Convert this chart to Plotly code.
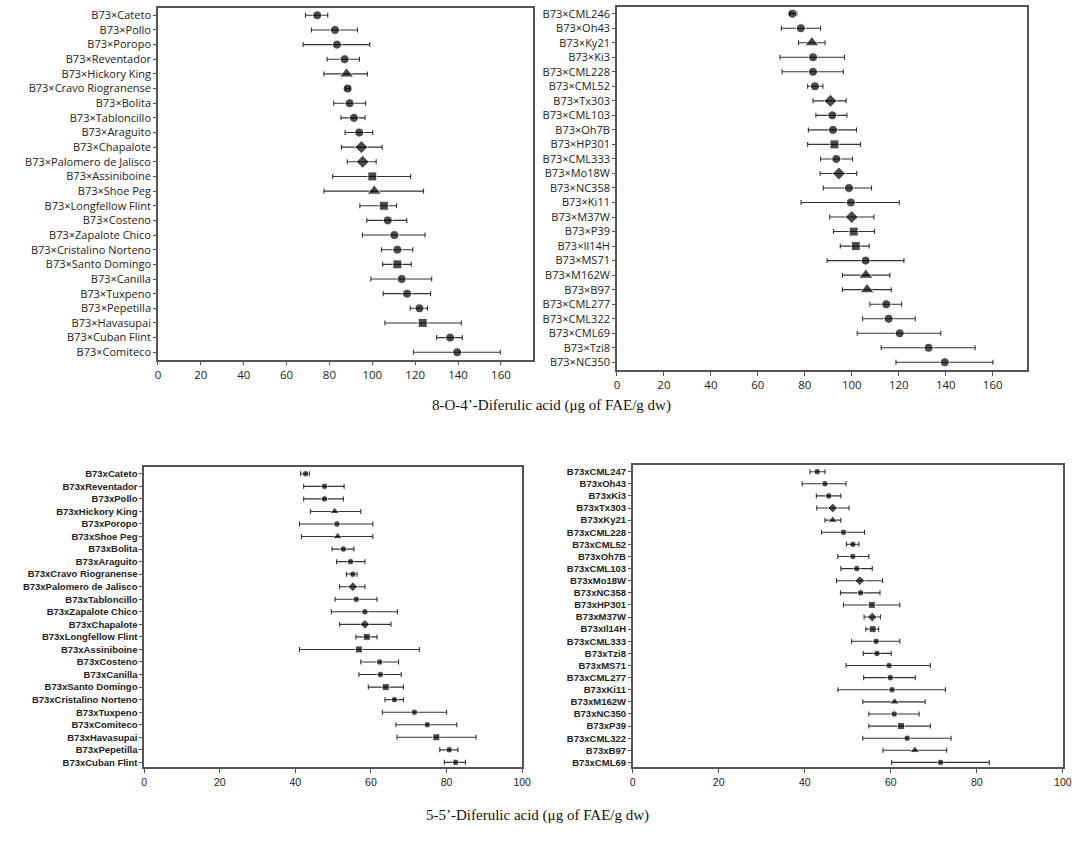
import plotly.graph_objects as go

# 8-O-4'-Diferulic acid, landraces (top left)
land_8o4 = ["Cateto", "Pollo", "Poropo", "Reventador", "Hickory King", "Cravo Riogranense",
            "Bolita", "Tabloncillo", "Araguito", "Chapalote", "Palomero de Jalisco",
            "Assiniboine", "Shoe Peg", "Longfellow Flint", "Costeno", "Zapalote Chico",
            "Cristalino Norteno", "Santo Domingo", "Canilla", "Tuxpeno", "Pepetilla",
            "Havasupai", "Cuban Flint", "Comiteco"]
land_8o4_mean = [74.3, 82.6, 83.5, 87.1, 88.0, 88.5, 89.4, 91.4, 93.9, 94.9, 95.5, 100.0,
                 100.9, 105.4, 107.2, 110.3, 111.7, 111.7, 113.7, 116.2, 122.0, 123.5, 136.3, 139.6]
land_8o4_low = [68.8, 71.6, 67.7, 78.9, 77.4, 87.5, 82.0, 85.4, 87.3, 85.6, 88.3, 81.5,
                77.4, 94.2, 97.4, 95.4, 104.3, 104.8, 99.3, 105.1, 117.7, 105.9, 130.0, 119.2]
land_8o4_high = [79.2, 93.1, 98.8, 94.0, 97.7, 89.5, 96.9, 96.6, 100.2, 104.6, 101.8, 117.9,
                 123.9, 111.3, 116.1, 124.6, 118.9, 118.2, 127.7, 127.2, 125.7, 141.5, 142.0, 159.7]
land_8o4_group = ["c", "c", "c", "c", "t", "c", "c", "c", "c", "d", "d", "s",
                  "t", "s", "c", "c", "c", "s", "c", "c", "c", "s", "c", "c"]

# 8-O-4'-Diferulic acid, inbreds (top right)
inb_8o4 = ["CML246", "Oh43", "Ky21", "Ki3", "CML228", "CML52", "Tx303", "CML103", "Oh7B",
           "HP301", "CML333", "Mo18W", "NC358", "Ki11", "M37W", "P39", "Il14H", "MS71",
           "M162W", "B97", "CML277", "CML322", "CML69", "Tzi8", "NC350"]
inb_8o4_mean = [74.7, 78.3, 83.0, 83.5, 83.5, 84.3, 90.9, 91.7, 92.0, 92.6, 93.4, 94.5, 98.8,
                99.6, 100.0, 100.8, 101.7, 105.9, 106.0, 106.5, 114.7, 115.7, 120.4, 132.7, 139.6]
inb_8o4_low = [73.4, 70.0, 77.3, 69.4, 70.3, 81.2, 83.5, 84.7, 81.5, 81.2, 86.7, 86.5, 87.9,
               78.4, 90.6, 92.2, 95.1, 89.5, 96.0, 96.0, 107.7, 104.6, 102.3, 112.5, 118.8]
inb_8o4_high = [76.6, 86.7, 88.6, 96.9, 96.4, 87.7, 97.6, 97.9, 102.0, 103.7, 100.3, 102.1, 108.4,
                120.2, 109.4, 109.7, 107.4, 122.2, 116.2, 116.8, 121.2, 127.0, 137.9, 152.5, 160.1]
inb_8o4_group = ["c", "c", "t", "c", "c", "c", "d", "c", "c", "s", "c", "d", "c",
                 "c", "d", "s", "s", "c", "t", "t", "c", "c", "c", "c", "c"]

# 5-5'-Diferulic acid, landraces (bottom left)
land_55 = ["Cateto", "Reventador", "Pollo", "Hickory King", "Poropo", "Shoe Peg", "Bolita",
           "Araguito", "Cravo Riogranense", "Palomero de Jalisco", "Tabloncillo",
           "Zapalote Chico", "Chapalote", "Longfellow Flint", "Assiniboine", "Costeno",
           "Canilla", "Santo Domingo", "Cristalino Norteno", "Tuxpeno", "Comiteco",
           "Havasupai", "Pepetilla", "Cuban Flint"]
land_55_mean = [42.7, 47.7, 47.7, 50.4, 51.0, 51.2, 52.7, 54.6, 55.2, 55.2, 56.1, 58.4,
                58.4, 58.9, 56.8, 62.3, 62.5, 63.9, 66.2, 71.5, 74.9, 77.3, 80.7, 82.4]
land_55_low = [41.4, 42.2, 42.2, 44.0, 41.1, 41.6, 49.7, 50.9, 53.5, 51.7, 50.5, 49.5,
               51.7, 56.0, 41.1, 57.3, 56.8, 59.3, 63.7, 63.0, 66.6, 66.9, 78.2, 79.4]
land_55_high = [43.7, 52.9, 52.7, 57.3, 60.5, 60.5, 55.5, 58.4, 56.3, 58.4, 61.6, 67.0,
                65.3, 61.6, 72.8, 67.3, 68.0, 68.6, 68.6, 80.0, 82.7, 87.8, 83.0, 85.0]
land_55_group = ["c", "c", "c", "t", "c", "t", "c", "c", "c", "d", "c", "c",
                 "d", "s", "s", "c", "c", "s", "c", "c", "c", "s", "c", "c"]

# 5-5'-Diferulic acid, inbreds (bottom right)
inb_55 = ["CML247", "Oh43", "Ki3", "Tx303", "Ky21", "CML228", "CML52", "Oh7B", "CML103",
          "Mo18W", "NC358", "HP301", "M37W", "Il14H", "CML333", "Tzi8", "MS71", "CML277",
          "Ki11", "M162W", "NC350", "P39", "CML322", "B97", "CML69"]
inb_55_mean = [42.9, 44.7, 45.6, 46.5, 46.5, 49.0, 51.2, 51.2, 52.1, 52.8, 53.0, 55.6, 55.7,
               55.8, 56.6, 56.8, 59.6, 59.9, 60.3, 60.9, 60.8, 62.4, 63.8, 65.6, 71.6]
inb_55_low = [41.2, 39.4, 42.7, 42.8, 44.7, 43.9, 49.7, 47.7, 48.4, 47.4, 48.3, 49.0, 53.8,
              54.2, 50.9, 53.6, 49.6, 53.7, 47.7, 53.5, 54.9, 54.9, 53.5, 58.2, 60.2]
inb_55_high = [44.7, 49.6, 48.4, 50.3, 48.4, 53.9, 52.6, 54.9, 55.7, 58.1, 57.5, 62.1, 57.6,
               57.2, 62.1, 60.1, 69.2, 65.7, 72.7, 68.0, 66.6, 69.2, 74.0, 73.0, 82.9]
inb_55_group = ["c", "c", "c", "d", "t", "c", "c", "c", "c", "d", "c", "s", "d",
                "s", "c", "c", "c", "c", "c", "t", "c", "s", "c", "t", "c"]

x_ticks_top = [0, 20, 40, 60, 80, 100, 120, 140, 160]
x_ticks_bottom = [0, 20, 40, 60, 80, 100]

symbols = {"c": "circle", "t": "triangle-up", "d": "diamond", "s": "square"}
sizes_top = {"c": 9, "t": 12.5, "d": 10, "s": 9}
sizes_bot = {"c": 6.5, "t": 8.5, "d": 7.5, "s": 7}

top_font = dict(family="Open Sans, Noto Sans, sans-serif", size=11, color="#222")
top_xfont = dict(family="Open Sans, Noto Sans, sans-serif", size=11.5, color="#222")
bot_font = dict(family="Liberation Sans, Arial, sans-serif", size=9.5, color="#222", weight="bold")
bot_xfont = dict(family="Liberation Sans, Arial, sans-serif", size=10.5, color="#222")

fig = go.Figure()


def add_panel(n, names, prefix, mean, low, high, group, sizes):
    labels = [prefix + s for s in names]
    fig.add_trace(go.Scatter(
        x=mean, y=labels, mode="markers",
        xaxis="x" + n, yaxis="y" + n,
        marker=dict(symbol=[symbols[g] for g in group],
                    size=[sizes[g] for g in group], color="black"),
        error_x=dict(type="data", symmetric=False,
                     array=[h - m for h, m in zip(high, mean)],
                     arrayminus=[m - l for m, l in zip(mean, low)],
                     color="#333", thickness=1.1, width=2.5),
        showlegend=False, hoverinfo="x+y"))
    return labels


lab1 = add_panel("", land_8o4, "B73×", land_8o4_mean, land_8o4_low, land_8o4_high, land_8o4_group, sizes_top)
lab2 = add_panel("2", inb_8o4, "B73×", inb_8o4_mean, inb_8o4_low, inb_8o4_high, inb_8o4_group, sizes_top)
lab3 = add_panel("3", land_55, "B73x", land_55_mean, land_55_low, land_55_high, land_55_group, sizes_bot)
lab4 = add_panel("4", inb_55, "B73x", inb_55_mean, inb_55_low, inb_55_high, inb_55_group, sizes_bot)

W, H = 1084, 842


def xax(left, right, rng, ticks, font, anchor):
    return dict(domain=[left / W, right / W], range=rng, tickvals=ticks, anchor=anchor,
                showgrid=False, zeroline=False, showline=True, mirror=True,
                linecolor="#555", linewidth=1.5, ticks="outside", ticklen=4,
                tickcolor="#555", tickfont=font)


def yax(top, bottom, labels, rng, font, anchor):
    return dict(domain=[1 - bottom / H, 1 - top / H], type="category",
                categoryorder="array", categoryarray=labels, range=rng, anchor=anchor,
                tickmode="array", tickvals=labels, ticktext=labels,
                showgrid=False, zeroline=False, showline=True, mirror=True,
                linecolor="#555", linewidth=1.5, ticks="outside", ticklen=3,
                tickcolor="#555", tickfont=font)


fig.update_layout(
    width=W, height=H, margin=dict(l=0, r=0, t=0, b=0),
    plot_bgcolor="white", paper_bgcolor="white",
    xaxis=xax(156.7, 536, [0, 175], x_ticks_top, top_xfont, "y"),
    yaxis=yax(6.7, 359, lab1, [23.5, -0.52], top_font, "x"),
    xaxis2=xax(620.8, 1035, [0, 174.4], x_ticks_top, top_xfont, "y2"),
    yaxis2=yax(6, 369.3, lab2, [24.52, -0.46], top_font, "x2"),
    xaxis3=xax(142.7, 525, [0, 100], x_ticks_bottom, bot_xfont, "y3"),
    yaxis3=yax(466.7, 767.3, lab3, [23.4, -0.53], bot_font, "x3"),
    xaxis4=xax(636.7, 1071.7, [0, 100], x_ticks_bottom, bot_xfont, "y4"),
    yaxis4=yax(464.7, 767.3, lab4, [24.41, -0.54], bot_font, "x4"),
    annotations=[
        dict(text="8-O-4’-Diferulic acid (μg of FAE/g dw)", x=555 / W, y=1 - 405 / H,
             xref="paper", yref="paper", showarrow=False,
             font=dict(family="Liberation Serif, serif", size=15, color="#111")),
        dict(text="5-5’-Diferulic acid (μg of FAE/g dw)", x=540 / W, y=1 - 826 / H,
             xref="paper", yref="paper", showarrow=False,
             font=dict(family="Liberation Serif, serif", size=15, color="#111")),
    ],
)

fig.write_html("out.html", config={"displayModeBar": False},
               post_script="document.body.style.margin='0';document.body.style.overflow='hidden';")
